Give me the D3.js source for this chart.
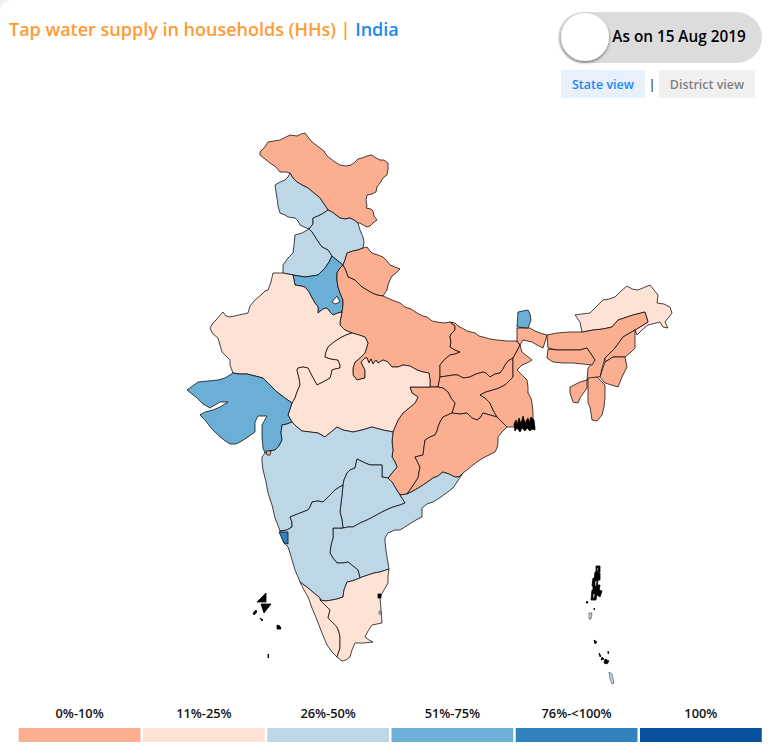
<!DOCTYPE html>
<html>
<head>
    <meta charset="utf-8" />
    <title>Tap water supply in households</title>
    <style>
        html, body { margin: 0; padding: 0; background: #fff; }
        svg { display: block; }
        text { font-family: "Open Sans", sans-serif; }
    </style>
</head>
<body>
    <div id="chart"></div>

    <script src="https://d3js.org/d3.v7.min.js"></script>
    <script>
        const titleMain = "Tap water supply in households (HHs) | ";
        const titleRegion = "India";
        const dateLabel = "As on 15 Aug 2019";
        const viewLabels = ["State view", "District view"];

        const bucketLabels = ["0%-10%", "11%-25%", "26%-50%", "51%-75%", "76%-<100%", "100%"];
        const bucketColours = ["#fcae91", "#fee2d6", "#bdd7e7", "#6baed6", "#3182bd", "#08519c"];

        // shared borders, in map units
        const borders = {
            jkOuter: [[290,173],[286,172],[280,172],[276,167],[270,163],[265,159],[260,155],[260,152],[264,148],[268,142],[274,141],[280,140],[284,138],[290,135],[297,136],[301,134],[305,133],[308,137],[312,142],[316,145],[320,148],[324,151],[327,156],[331,159],[335,162],[340,165],[346,166],[351,165],[355,162],[358,159],[362,158],[367,156],[372,155],[376,158],[380,160],[384,160],[388,163],[388,169],[387,175],[383,178],[380,183],[377,187],[376,192],[372,194],[367,195],[366,200],[367,206],[366,208],[371,209],[373,211],[374,216],[377,220],[373,223],[370,226],[367,227],[363,225],[360,223],[358,223]],
            jkHp: [[358,223],[354,220],[350,218],[345,219],[340,218],[336,215],[332,212],[328,210]],
            jkPb: [[328,210],[324,204],[320,198],[314,193],[308,188],[302,185],[297,182],[293,178],[290,173]],
            pbOuter: [[290,173],[288,177],[285,180],[280,182],[275,185],[276,192],[277,198],[278,206],[280,213],[285,215],[288,217],[295,218],[298,221],[300,225],[304,227],[309,229]],
            pbHp: [[309,229],[313,224],[313,218],[318,216],[322,214],[328,210]],
            hpHr: [[309,229],[312,232],[317,240],[322,247],[328,250],[332,256]],
            hpHs: [[332,256],[333,257],[338,261],[343,265]],
            hpUk: [[343,265],[345,260],[347,253],[353,251],[358,250],[363,248]],
            hpOuter: [[363,248],[364,242],[363,237],[360,230],[358,223]],
            hrOuter: [[309,229],[302,233],[295,235],[294,245],[293,253],[288,258],[283,265],[283,273]],
            hrRaj: [[283,273],[288,274],[293,275]],
            hrSplit: [[293,275],[299,276],[305,277],[312,276],[318,275],[322,271],[325,268],[329,262],[332,256]],
            hsRaj: [[293,275],[295,285],[301,286],[305,287],[309,292],[312,298],[315,303],[318,307],[318,313],[323,309],[327,308],[330,312],[333,315],[338,313],[342,312]],
            hsUp: [[342,312],[343,305],[343,300],[340,293],[338,287],[337,280],[337,273],[340,268],[343,265]],
            ukOuter: [[363,248],[367,247],[370,251],[372,253],[378,255],[383,257],[387,261],[390,265],[395,267],[400,269],[396,273],[392,276],[390,280],[388,285],[387,290],[383,296]],
            ukUp: [[383,296],[377,295],[372,293],[367,290],[362,287],[358,283],[355,280],[348,277],[346,271],[343,265]],
            upOuter: [[383,296],[392,300],[400,303],[405,307],[411,309],[417,313],[423,316],[427,317],[432,321],[437,322],[444,323],[450,322]],
            upBh: [[450,322],[455,326],[455,330],[451,334],[450,337],[451,342],[450,347],[455,350],[460,352],[455,354],[450,355],[445,359],[440,365],[440,371],[440,377]],
            upJh: [[440,377],[439,382],[438,387]],
            upCg: [[438,387],[430,387]],
            upMp: [[430,387],[430,380],[429,373],[423,372],[417,370],[410,366],[403,365],[398,367],[392,367],[388,362],[383,360],[378,363],[376,360],[373,364],[371,359],[369,363],[367,358],[365,358],[361,362],[365,370],[365,378],[357,380],[353,375],[353,368],[355,362],[360,358],[365,353],[368,343],[365,337],[359,335],[352,333]],
            upRaj: [[352,333],[345,330],[340,325],[340,322],[342,312]],
            bhOuter: [[450,322],[455,323],[458,326],[462,328],[467,331],[475,333],[479,336],[483,337],[490,339],[497,340],[507,341],[517,341],[520,345]],
            bhWb: [[520,345],[517,351],[513,358]],
            bhJh: [[513,358],[508,361],[505,365],[503,369],[500,373],[495,374],[490,377],[486,373],[483,372],[476,374],[470,377],[463,378],[458,375],[453,375],[447,376],[440,377]],
            jhWb: [[513,358],[513,370],[513,377],[509,381],[505,385],[499,388],[493,390],[486,392],[480,395],[485,398],[490,403],[493,410],[497,417]],
            jhOd: [[497,417],[490,415],[483,413],[480,418],[477,420],[472,418],[467,413],[460,414],[452,413]],
            jhCg: [[452,413],[455,403],[451,398],[448,392],[443,388],[438,387]],
            wbCoast: [[520,345],[522,352],[527,356],[532,360],[527,363],[522,365],[517,370],[522,375],[527,380],[528,387],[528,393],[531,398],[532,403],[533,412],[533,420],[535,428],[526,428],[517,427],[507,427]],
            wbOd: [[497,417],[502,422],[507,427]],
            cgMp: [[430,387],[420,387],[410,387],[412,393],[418,397],[415,403],[409,408],[403,413],[398,420],[395,427],[393,432]],
            cgMh: [[393,432],[392,442],[393,450],[392,457],[395,462],[397,467],[392,473],[388,478]],
            cgTs: [[388,478],[392,482],[395,487],[398,492],[400,495]],
            cgAp: [[400,495],[407,494]],
            cgOd: [[407,494],[412,487],[418,478],[419,472],[420,467],[417,461],[415,457],[423,455],[424,447],[425,440],[430,437],[435,435],[437,431],[438,427],[440,422],[443,417],[452,413]],
            odCoast: [[507,427],[502,432],[498,437],[498,443],[497,448],[495,452],[489,455],[483,458],[477,462],[473,465],[467,470],[463,473]],
            odAp: [[463,473],[459,477],[455,477],[449,474],[443,472],[438,476],[433,478],[426,483],[420,487],[413,491],[407,494]],
            apOuter: [[463,473],[453,488],[445,494],[438,499],[433,502],[427,504],[422,508],[422,517],[416,520],[408,525],[400,530],[395,530],[388,533],[385,538],[385,542],[386,550],[387,557],[389,569]],
            apTn: [[389,569],[380,572],[374,573],[368,575],[362,577],[360,578]],
            apKa: [[360,578],[358,570],[353,566],[348,562],[343,563],[337,563],[333,558],[330,553],[331,545],[333,538],[333,528],[338,528],[343,528]],
            apTs: [[343,528],[348,527],[353,527],[360,523],[367,520],[373,517],[380,513],[386,510],[393,507],[400,505],[405,503],[402,498],[400,495]],
            tsMh: [[388,478],[382,477],[382,470],[382,465],[376,465],[370,465],[363,462],[357,459],[355,468],[350,470],[347,473],[344,480],[343,485]],
            tsKa: [[343,485],[342,495],[341,503],[340,512],[342,520],[343,528]],
            mhKa: [[343,485],[338,488],[335,490],[329,496],[323,502],[318,501],[312,502],[310,507],[308,510],[300,513],[290,517],[292,522],[292,527],[287,530],[280,531]],
            mhCoast: [[280,531],[277,523],[275,518],[272,505],[268,493],[266,482],[263,470],[262,462],[262,457],[265,453]],
            mhGj: [[265,453],[270,451],[275,450],[279,446],[282,440],[281,433],[282,425],[287,424],[292,422]],
            mhMp: [[292,422],[297,427],[302,431],[310,432],[318,433],[325,437],[331,432],[337,427],[343,430],[353,432],[362,430],[372,427],[383,430],[393,432]],
            gjMp: [[292,422],[288,415],[292,403]],
            gjRaj: [[292,403],[285,398],[277,392],[270,385],[263,378],[255,376],[247,374],[240,374],[233,373]],
            gjCoast: [[233,373],[225,378],[218,380],[208,381],[198,382],[187,390],[192,394],[197,398],[203,404],[210,408],[215,405],[220,402],[228,402],[220,407],[213,410],[205,412],[200,415],[205,420],[211,428],[218,435],[224,440],[230,444],[236,444],[240,442],[248,437],[255,432],[255,422],[258,416],[263,416],[267,416],[262,425],[262,437],[263,448],[265,453]],
            kaWest: [[280,531],[284,543],[288,547],[290,553],[292,560],[295,570],[298,577],[300,582]],
            kaKe: [[300,582],[304,585],[308,588],[314,593],[320,598],[320,600]],
            kaTn: [[320,600],[326,601],[332,600],[337,599],[343,597],[344,590],[347,582],[352,581],[360,578]],
            keCoast: [[300,582],[304,590],[308,597],[312,608],[317,620],[322,633],[327,645],[332,652],[337,657]],
            keTn: [[320,600],[322,602],[326,606],[330,610],[328,618],[332,622],[337,627],[339,632],[340,637],[340,648],[337,657]],
            tnCoast: [[389,569],[388,576],[388,583],[384,590],[380,597],[381,610],[382,623],[372,625],[368,631],[365,637],[369,640],[373,642],[364,643],[355,643],[352,650],[350,657],[346,660],[342,661],[337,657]],
            mpRaj: [[352,333],[346,335],[340,338],[334,342],[328,347],[326,352],[325,357],[331,359],[338,360],[340,365],[340,368],[335,369],[332,370],[331,375],[330,378],[323,382],[317,385],[312,376],[308,368],[303,367],[298,368],[297,370],[299,378],[300,385],[297,392],[295,398],[292,403]],
            rajWest: [[233,373],[230,365],[230,360],[226,356],[222,352],[220,345],[218,338],[213,334],[210,328],[213,323],[216,320],[223,312],[226,316],[230,317],[239,315],[248,313],[250,306],[255,300],[261,295],[265,291],[268,290],[271,282],[273,273],[283,273]],
            nBengal: [[517,328],[523,328],[530,328],[535,331],[540,333],[547,335],[545,342],[543,348],[537,345],[532,342],[523,340],[520,345],[517,341]],
            sikkim: [[517,327],[518,312],[528,310],[530,314],[531,320],[528,328]],
            arunachal: [[575,315],[582,314],[590,313],[597,306],[603,300],[609,299],[615,297],[621,291],[627,286],[632,289],[638,290],[650,285],[654,290],[658,295],[657,303],[664,304],[670,307],[672,313],[665,322],[668,328],[663,327],[660,322],[648,325],[642,330],[637,335],[635,330],[648,322],[645,312],[633,315],[618,320],[612,327],[603,329],[593,330],[582,332],[580,322]],
            assam: [[547,335],[557,333],[570,332],[583,332],[593,330],[603,329],[612,327],[618,320],[633,315],[645,312],[648,322],[635,330],[623,337],[615,348],[605,358],[602,368],[600,377],[597,377],[587,380],[588,368],[595,360],[587,348],[580,350],[573,350],[557,350],[548,348]],
            meghalaya: [[548,349],[557,350],[573,350],[580,350],[587,348],[595,360],[592,365],[583,364],[573,363],[563,363],[553,362],[547,358]],
            nagaland: [[635,330],[635,340],[635,348],[630,353],[625,357],[613,357],[605,362],[605,358],[615,348],[623,337]],
            manipur: [[605,362],[613,357],[625,357],[627,367],[622,377],[618,387],[605,383],[600,377]],
            mizoram: [[588,378],[597,377],[605,385],[605,398],[604,407],[602,415],[597,421],[592,420],[590,407],[588,403]],
            tripura: [[587,380],[587,388],[580,398],[578,403],[573,402],[570,393],[570,387],[580,382]],
            goa: [[279,532],[288,532],[288,544],[284,543]],
            daman: [[266,451],[271,451],[270,455],[267,455]],
            delhi: [[332,302],[337,296],[340,302],[335,304]]
        };

        // state -> bucket (-1 = no data), then its borders; "-" walks a border backwards
        const stateNames = ["Jammu & Kashmir", "Punjab", "Himachal Pradesh", "Haryana north", "Haryana south", "Uttarakhand",
            "Uttar Pradesh", "Bihar", "Jharkhand", "West Bengal", "North Bengal", "Sikkim", "Chhattisgarh", "Odisha",
            "Arunachal Pradesh", "Assam", "Meghalaya", "Nagaland", "Manipur", "Mizoram", "Tripura", "Rajasthan",
            "Madhya Pradesh", "Gujarat", "Maharashtra", "Telangana", "Andhra Pradesh", "Karnataka", "Kerala", "Tamil Nadu",
            "Goa", "Daman", "Delhi"];
        const stateBuckets = [0, 2, 2, 2, 3, 0, 0, 0, 0, 0, 0, 3, 0, 0, 1, 0, 0, 0, 0, 0, 0, 1, 1, 3, 2, 2, 2, 2, 1, 1, 4, 0, -1];
        const stateBorders = [
            ["jkOuter", "jkHp", "jkPb"],
            ["pbOuter", "pbHp", "jkPb"],
            ["hpHr", "hpHs", "hpUk", "hpOuter", "jkHp", "-pbHp"],
            ["hrOuter", "hrRaj", "hrSplit", "-hpHr"],
            ["hrSplit", "hpHs", "-hsUp", "-hsRaj"],
            ["hpUk", "ukOuter", "ukUp"],
            ["upOuter", "upBh", "upJh", "upCg", "upMp", "upRaj", "hsUp", "-ukUp"],
            ["bhOuter", "bhWb", "bhJh", "-upBh"],
            ["-bhJh", "jhWb", "jhOd", "jhCg", "-upJh"],
            ["wbCoast", "-wbOd", "-jhWb", "-bhWb"],
            ["nBengal"],
            ["sikkim"],
            ["cgMp", "cgMh", "cgTs", "cgAp", "cgOd", "jhCg", "upCg"],
            ["-jhOd", "wbOd", "odCoast", "odAp", "cgOd"],
            ["arunachal"],
            ["assam"],
            ["meghalaya"],
            ["nagaland"],
            ["manipur"],
            ["mizoram"],
            ["tripura"],
            ["rajWest", "hrRaj", "hsRaj", "-upRaj", "mpRaj", "gjRaj"],
            ["upMp", "mpRaj", "-gjMp", "mhMp", "-cgMp"],
            ["gjMp", "gjRaj", "gjCoast", "mhGj"],
            ["mhGj", "mhMp", "cgMh", "tsMh", "mhKa", "mhCoast"],
            ["tsMh", "tsKa", "apTs", "-cgTs"],
            ["apOuter", "apTn", "apKa", "apTs", "cgAp", "-odAp"],
            ["-mhKa", "tsKa", "-apKa", "-kaTn", "-kaKe", "-kaWest"],
            ["kaKe", "keTn", "-keCoast"],
            ["kaTn", "-apTn", "tnCoast", "-keTn"],
            ["goa"],
            ["daman"],
            ["delhi"]
        ];

        // delta and island specks, black at this size
        const blackSpecks = [
            [[514,424],[516,420],[517,425],[519,418],[521,424],[523,416],[525,423],[528,418],[529,423],[531,417],[534,420],[535,430],[532,429],[530,431],[527,428],[525,431],[522,428],[520,432],[517,428],[515,431]],
            [[257,602],[266,593],[266,602]],
            [[261,604],[271,604],[264,613]],
            [[253,613],[256,610],[257,612],[254,615]],
            [[260,618],[263,620],[262,621]],
            [[277,625],[280,626],[281,629],[277,629]],
            [[268,654],[268.5,654],[268.5,658],[268,658]],
            [[378,594],[381,594],[381,598],[378,598]],
            [[596,566],[600,566],[600,572],[596,572]],
            [[595,572],[600,573],[600,580],[594,580]],
            [[593,578],[598,580],[597,587],[592,586]],
            [[593,585],[600,585],[599,591],[593,591]],
            [[597,589],[602,591],[600,597],[597,595]],
            [[592,590],[597,591],[596,600],[591,600]],
            [[587,601],[588,603],[586,603]],
            [[594,608],[595,609],[594,610]],
            [[594,640],[597,642],[595,644]],
            [[599,653],[601,656],[600,657]],
            [[602,657],[604,659],[601,660]],
            [[605,659],[609,661],[607,664],[604,663]],
            [[608,651],[609,653],[608,654]]
        ];
        const blueSpecks = [
            [[597,568],[598,568],[598,571],[597,571]],
            [[595,581],[597,581],[596,586],[595,586]],
            [[593,594],[595,594],[594,598],[593,598]],
            [[589,613],[592,613],[591,619],[589,619]],
            [[609,672],[612,674],[614,683],[612,684],[610,679]],
            [[379,611],[381,611],[381,614],[379,614]]
        ];

        const width = 780;
        const height = 750;

        const svg = d3.select("#chart")
            .append("svg")
            .attr("width", width)
            .attr("height", height);

        // card corner
        svg.append("path").attr("fill", "#efefef")
            .attr("d", "M0 0 H12 Q0 1 0 14 Z");

        const shadow = svg.append("defs").append("filter").attr("id", "knob")
            .attr("x", "-30%").attr("y", "-30%").attr("width", "160%").attr("height", "160%");
        shadow.append("feDropShadow").attr("dx", 0).attr("dy", 1.5).attr("stdDeviation", 1.5)
            .attr("flood-color", "#000").attr("flood-opacity", 0.5);

        // title
        const title = svg.append("text")
            .attr("x", 9).attr("y", 36)
            .style("font-size", "18px").style("font-weight", 600);
        title.append("tspan").attr("fill", "#ff9a35").text(titleMain);
        title.append("tspan").attr("fill", "#1e88f2").text(titleRegion);

        // date toggle
        svg.append("rect").attr("x", 558).attr("y", 12).attr("width", 204).attr("height", 51).attr("rx", 25.5).attr("fill", "#dcdcdc");
        svg.append("circle").attr("cx", 585).attr("cy", 37).attr("r", 24).attr("fill", "#fff").attr("filter", "url(#knob)");
        svg.append("text").attr("x", 679).attr("y", 42).attr("text-anchor", "middle")
            .attr("fill", "#000").style("font-size", "15.3px").style("font-weight", 600).text(dateLabel);

        // view switch
        const viewBoxes = d3.scaleOrdinal(viewLabels, [[561, 84], [659, 96]]);
        const viewFill = d3.scaleOrdinal(viewLabels, ["#e8f0fb", "#f0f0f0"]);
        const viewText = d3.scaleOrdinal(viewLabels, ["#1e88f2", "#808080"]);
        svg.selectAll("rect.view").data(viewLabels).enter().append("rect")
            .attr("class", "view")
            .attr("x", d => viewBoxes(d)[0]).attr("y", 70)
            .attr("width", d => viewBoxes(d)[1]).attr("height", 28)
            .attr("fill", d => viewFill(d));
        svg.selectAll("text.view").data(viewLabels).enter().append("text")
            .attr("class", "view")
            .attr("x", d => viewBoxes(d)[0] + viewBoxes(d)[1] / 2).attr("y", 89)
            .attr("text-anchor", "middle")
            .attr("fill", d => viewText(d))
            .style("font-size", "12.5px").style("font-weight", 600).text(d => d);
        svg.append("text").attr("x", 652).attr("y", 89).attr("text-anchor", "middle")
            .attr("fill", "#000").style("font-size", "13px").text("|");

        // map
        const x = d3.scaleLinear().domain([180, 680]).range([180, 680]);
        const y = d3.scaleLinear().domain([130, 690]).range([130, 690]);
        const outline = d3.line().x(d => x(d[0])).y(d => y(d[1]));
        const colour = d3.scaleOrdinal(d3.range(bucketLabels.length), bucketColours);

        const walkBorders = (keys) => keys.flatMap(key => key[0] === "-"
            ? borders[key.slice(1)].slice().reverse()
            : borders[key]);

        svg.append("g").selectAll("path")
            .data(stateBorders)
            .enter()
            .append("path")
            .attr("d", d => outline(walkBorders(d)) + "Z")
            .attr("fill", (d, i) => stateBuckets[i] < 0 ? "#fff" : colour(stateBuckets[i]))
            .attr("stroke", "#000")
            .attr("stroke-opacity", 0.72)
            .attr("stroke-width", 1)
            .attr("stroke-linejoin", "round");

        svg.append("g").selectAll("path")
            .data(blackSpecks)
            .enter()
            .append("path")
            .attr("d", d => outline(d) + "Z")
            .attr("fill", "#000")
            .attr("stroke", "#000")
            .attr("stroke-width", 0.8);

        svg.append("g").selectAll("path")
            .data(blueSpecks)
            .enter()
            .append("path")
            .attr("d", d => outline(d) + "Z")
            .attr("fill", bucketColours[2])
            .attr("stroke", "#222")
            .attr("stroke-width", 0.5);

        // legend
        const legend = d3.scaleBand().domain(bucketLabels).range([17.5, 763]).paddingInner(0.02).paddingOuter(0.01);
        svg.selectAll("rect.legend").data(bucketLabels).enter().append("rect")
            .attr("class", "legend")
            .attr("x", d => legend(d)).attr("y", 728)
            .attr("width", legend.bandwidth()).attr("height", 14)
            .attr("fill", d => colour(bucketLabels.indexOf(d)));
        svg.selectAll("text.legend").data(bucketLabels).enter().append("text")
            .attr("class", "legend")
            .attr("x", d => legend(d) + legend.bandwidth() / 2).attr("y", 717.5)
            .attr("text-anchor", "middle")
            .attr("fill", "#111")
            .style("font-size", "12.8px").style("font-weight", 600).text(d => d);
    </script>
</body>
</html>
